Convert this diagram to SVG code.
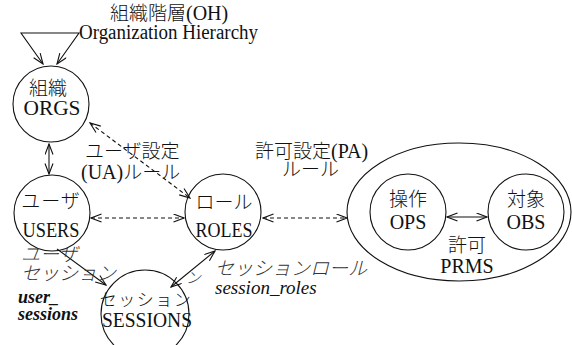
<svg xmlns="http://www.w3.org/2000/svg" width="572" height="345" viewBox="0 0 572 345">
<style>
text{font-family:"Liberation Serif","Noto Sans CJK JP",serif;fill:#111;}
.n{font-size:20px;text-anchor:middle;}
.j{font-size:19px;font-weight:300;}
.jm{font-size:19px;font-weight:300;text-anchor:middle;}
.ji{font-size:19px;font-weight:300;font-style:italic;fill:#333;}
.li{font-size:19px;font-style:italic;font-weight:bold;}
.shape{fill:#fff;stroke:#111;stroke-width:1.1;}
.c{fill:none;stroke:#111;stroke-width:1.1;}
.d{stroke-dasharray:4 3;}
</style>
<defs>
<marker id="ah" markerWidth="12" markerHeight="10" refX="11" refY="4.5" orient="auto-start-reverse" markerUnits="userSpaceOnUse">
<path d="M0.5,0.5 L11,4.5 L0.5,8.5" fill="none" stroke="#111" stroke-width="1.1"/>
</marker>
</defs>
<rect width="572" height="345" fill="#fff"/>

<g id="node-prms">
<ellipse class="shape" cx="459" cy="212" rx="112" ry="69"/>
<text class="jm" x="467" y="252">許可</text>
<text class="n" x="467" y="273">PRMS</text>
</g>
<g id="node-orgs">
<circle class="shape" cx="51" cy="104" r="38"/>
<text class="jm" x="48" y="95">組織</text>
<text class="n" x="52" y="115" textLength="57" lengthAdjust="spacingAndGlyphs">ORGS</text>
</g>
<g id="node-users">
<circle class="shape" cx="52" cy="213" r="38"/>
<text class="jm" x="51" y="208" letter-spacing="1">ユーザ</text>
<text class="n" x="51" y="237" textLength="57" lengthAdjust="spacingAndGlyphs">USERS</text>
</g>
<g id="node-roles">
<circle class="shape" cx="223" cy="212" r="38"/>
<text class="jm" x="224" y="209">ロール</text>
<text class="n" x="224" y="237" textLength="57" lengthAdjust="spacingAndGlyphs">ROLES</text>
</g>
<g id="node-sessions">
<circle class="shape" cx="145" cy="314" r="44"/>
<text class="jm" x="146" y="306" letter-spacing="1.5" style="font-size:17px">セッション</text>
<text class="n" x="147" y="327" textLength="90" lengthAdjust="spacingAndGlyphs">SESSIONS</text>
</g>
<g id="node-ops">
<circle class="shape" cx="408" cy="212" r="38"/>
<text class="jm" x="408" y="206">操作</text>
<text class="n" x="408" y="229">OPS</text>
</g>
<g id="node-obs">
<circle class="shape" cx="526" cy="212" r="38"/>
<text class="jm" x="526" y="206">対象</text>
<text class="n" x="526" y="229">OBS</text>
</g>

<g id="connectors">
<polyline class="c" points="43,64 21,33 79,33 57,64" marker-start="url(#ah)" marker-end="url(#ah)"/>
<line class="c" x1="49" y1="144" x2="49" y2="174" marker-start="url(#ah)" marker-end="url(#ah)"/>
<line class="c d" x1="90" y1="123" x2="190" y2="198" marker-start="url(#ah)" marker-end="url(#ah)"/>
<line class="c d" x1="91" y1="218" x2="184" y2="218" marker-start="url(#ah)" marker-end="url(#ah)"/>
<line class="c d" x1="263" y1="218" x2="347" y2="218" marker-start="url(#ah)" marker-end="url(#ah)"/>
<line class="c" x1="447" y1="217" x2="487" y2="217" marker-start="url(#ah)" marker-end="url(#ah)"/>
<line class="c" x1="57" y1="249" x2="106" y2="285" marker-end="url(#ah)"/>
<line class="c" x1="215" y1="251" x2="171" y2="287" marker-start="url(#ah)" marker-end="url(#ah)"/>
</g>

<g id="labels">
<text class="j" x="110" y="20">組織階層<tspan font-size="20" font-weight="normal">(OH)</tspan></text>
<text x="79" y="39" font-size="20" textLength="179" lengthAdjust="spacingAndGlyphs">Organization Hierarchy</text>
<text class="j" x="85" y="158">ユーザ設定</text>
<text class="j" x="81" y="179"><tspan font-size="20" font-weight="normal">(UA)</tspan>ルール</text>
<text class="j" x="255" y="158">許可設定<tspan font-size="20" font-weight="normal">(PA)</tspan></text>
<text class="j" x="282" y="176">ルール</text>
<text class="ji" x="21" y="261">ユーザ</text>
<text class="ji" x="21" y="280">セッション</text>
<text class="ji" x="186" y="283" style="font-size:15px">ン</text>
<text class="li" x="18" y="303" style="font-size:18px">user_</text>
<text class="li" x="18" y="320" style="font-size:18px">sessions</text>
<text class="ji" x="215" y="275">セッションロール</text>
<text class="li" x="215" y="294" style="font-weight:normal">session_roles</text>
</g>
</svg>
